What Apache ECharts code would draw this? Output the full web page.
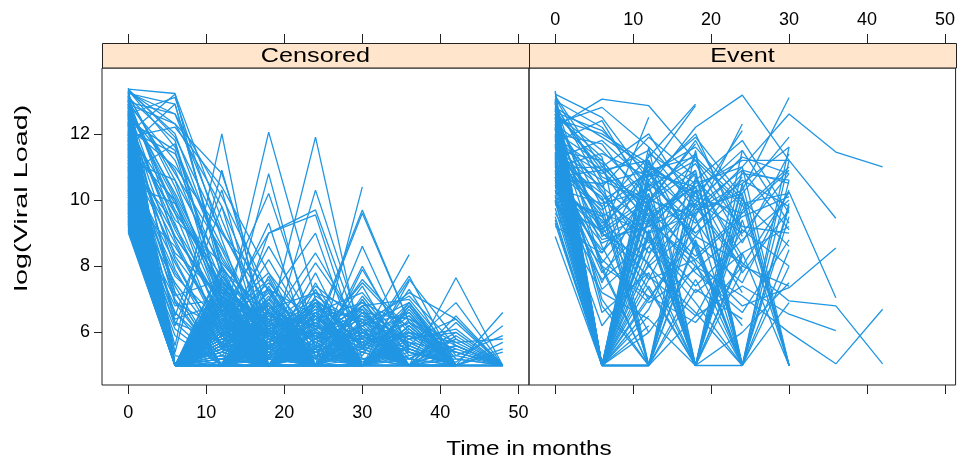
<!DOCTYPE html>
<html>
<head>
<meta charset="utf-8">
<script src="https://cdn.jsdelivr.net/npm/echarts@6/dist/echarts.min.js"></script>
<style>
  html, body { margin: 0; padding: 0; background: #fff; }
  #chart { width: 958px; height: 460px; }
</style>
</head>
<body>
<div id="chart"></div>
<script>
// measurement times (months) shared by both panels
const months = [0, 6, 12, 18, 24, 30, 36, 42, 48]
const xTicks = [0, 10, 20, 30, 40, 50]
const yTicks = [6, 8, 10, 12]
const panelNames = ['Censored', 'Event']

// log viral load per subject, one row per subject, values at months[i]
const censoredLoads = [
  [13.35, 13.22, 7.6, 5.6, 5],
  [13.3, 12.0, 8.2, 6.1, 5, 5],
  [12.0, 13.2, 9.4, 6.0, 5],
  [13.25, 12.6, 10.1, 7.2, 5],
  [12.6, 13.1, 8.8, 5, 5.4, 5],
  [13.1, 11.8, 7.0, 5, 5],
  [12.9, 12.3, 9.8, 6.5, 5, 5.7, 5],
  [11.6, 12.9, 7.9, 5, 5],
  [12.4, 11.5, 6.6, 5, 6.0, 5],
  [13.0, 10.8, 8.5, 5.5, 5],
  [11.9, 12.2, 10.4, 7.8, 5.3],
  [12.2, 11.0, 9.0, 6.8, 5, 5],
  [10.8, 11.7, 6.9, 5, 5],
  [12.7, 10.2, 7.4, 5, 5.5, 5],
  [11.2, 10.6, 8.0, 5.8, 5],
  [12.9, 9.6, 6.2, 5, 5],
  [10.5, 9.9, 7.3, 5, 5, 5],
  [13.1, 9.2, 6.8, 5.5, 5],
  [11.4, 8.7, 5.9, 5, 5],
  [12.5, 8.3, 6.4, 5, 5.6, 5],
  [10.9, 5.6, 12.0, 5.0, 5, 5],
  [11.3, 6.5, 10.3, 5.2, 5],
  [12.0, 5.4, 10.9, 6.0, 5],
  [10.2, 6.2, 9.8, 5.0, 5.5, 5],
  [11.7, 5, 6.0, 12.05, 7.0, 5],
  [12.3, 5, 5.5, 10.8, 5.5, 5],
  [9.8, 6.8, 7.0, 10.2, 6.0, 5],
  [11.0, 5, 6.3, 9.3, 5, 5, 5],
  [12.8, 5, 5, 6.2, 11.9, 5.5, 5],
  [10.6, 5, 5.8, 5.5, 10.3, 6.0, 5],
  [11.5, 7.2, 5, 9.0, 9.55, 5.2, 5],
  [13.0, 5.3, 5, 7.0, 9.0, 5, 5, 5],
  [12.1, 5, 5, 5.5, 5, 10.4],
  [11.8, 5, 6.0, 5, 6.1, 9.7, 6.3, 5],
  [10.3, 5, 5, 5.9, 5.2, 8.6, 5.5, 5],
  [9.6, 5, 5, 5, 5.6, 5.8, 8.35],
  [10.4, 5, 5.2, 5, 6.4, 5, 7.55],
  [11.1, 5, 6.6, 9.0, 9.7, 5.8, 5],
  [12.7, 5, 5, 5.6, 5, 5.4, 5, 7.65, 5],
  [10.7, 5, 5.5, 5, 5.3, 5, 5.6, 6.9, 5],
  [11.2, 5, 5, 5, 5.7, 5, 5.2, 5, 6.6],
  [9.9, 5, 5, 5.5, 5, 5.9, 5, 5.3, 5.9],
  [12.0, 5, 5.3, 5, 6.2, 5, 6.0, 5.7, 5.8],
  [9.4, 5, 5, 5, 5.4, 6.2, 7.2, 6.4, 5],
  [10.1, 5, 5, 6.0, 5, 5, 6.8, 5, 5],
  [12.9, 5, 5, 5, 5, 5.5, 7.6, 5.8, 5],
  [11.9, 5, 5, 5.2, 6.0, 9.6, 6.3, 5.4, 5],
  [9.02, 5, 5, 5.4, 5],
  [9.1, 5, 6.1, 5, 5, 5],
  [9.15, 5],
  [9.22, 5, 5, 5, 5.8, 5],
  [9.3, 5, 5.6, 5],
  [9.35, 5, 5, 6.7, 5, 5],
  [9.41, 5, 5, 5],
  [9.5, 5, 7.1, 5, 5.5],
  [9.55, 5, 5, 5, 5, 6.3, 5],
  [9.6, 5, 5.2, 5],
  [9.68, 5, 5, 5.9, 5, 5],
  [9.74, 5, 6.4, 5, 5],
  [9.8, 5, 5, 5, 6.9, 5],
  [9.86, 5, 5],
  [9.9, 5, 5.7, 5, 5, 5, 5.5],
  [9.97, 5, 5, 6.2, 5],
  [10.05, 5, 5, 5, 5, 5.6, 5],
  [10.1, 5, 6.8, 5.3, 5],
  [10.16, 5, 5],
  [10.22, 5, 5, 5.5, 5.9, 5],
  [10.3, 5, 5.9, 5, 5],
  [10.35, 5, 5, 7.4, 5, 5],
  [10.42, 5, 5.4, 5, 5, 6.0, 5, 5],
  [10.5, 5, 5, 5],
  [10.55, 5, 6.6, 5, 6.1, 5],
  [10.61, 5, 5, 5.8, 5],
  [10.68, 5, 5, 5, 5, 5, 6.2, 5],
  [10.74, 5, 7.6, 5, 5],
  [10.8, 5, 5, 5, 6.5, 5],
  [10.86, 5, 5.5, 6.0, 5],
  [10.92, 5, 5, 5],
  [11.0, 5, 6.2, 5, 5.3, 5],
  [11.05, 5, 5, 6.9, 5, 5, 5],
  [11.12, 5, 5.3, 5],
  [11.18, 5, 5, 5, 5, 7.0, 5],
  [11.25, 5, 6.9, 5, 5],
  [11.3, 5, 5, 5.6, 5, 5, 5.7, 5],
  [11.36, 5, 5.8, 5],
  [11.42, 5, 5, 5, 5.4, 5],
  [11.5, 5, 5, 7.7, 5],
  [11.56, 5, 6.3, 5, 5, 5],
  [11.62, 5, 5, 5.3, 5, 6.4, 5],
  [11.7, 5],
  [11.75, 5, 5.6, 5, 6.6, 5],
  [11.82, 5, 5, 6.4, 5, 5],
  [11.88, 5, 7.2, 5],
  [11.95, 5, 5, 5, 5.8, 5, 5, 5],
  [12.02, 5, 5.9, 5, 5],
  [12.08, 5, 5, 5, 5, 6.1, 5],
  [12.15, 5, 6.5, 5.2, 5],
  [12.2, 5, 5, 6.0, 5],
  [12.28, 5, 5.4, 5, 5, 5, 5],
  [12.34, 5, 5, 5, 7.3, 5],
  [12.4, 5, 6.0, 5],
  [12.48, 5, 5, 5.7, 5, 5.2, 5],
  [12.55, 5, 7.0, 5, 5],
  [12.6, 5, 5, 5],
  [12.66, 5, 5.5, 5, 6.3, 5],
  [12.72, 5, 5, 6.6, 5, 5, 5],
  [12.8, 5, 6.1, 5],
  [12.86, 5, 5, 5, 5, 5.9, 5],
  [12.92, 5, 5.7, 5, 5],
  [12.98, 5, 5, 5.9, 5],
  [13.05, 5, 6.7, 5, 5, 5],
  [13.12, 5, 5, 5, 5.5, 5],
  [13.18, 5, 5.2, 5],
  [13.25, 5, 5, 6.2, 5, 5],
  [13.38, 5, 5.8, 5],
  [9.45, 6.1, 5, 5],
  [9.9, 7.0, 5, 5.5],
  [10.4, 6.6, 5, 5],
  [10.9, 8.1, 5.6, 5],
  [11.3, 7.4, 5, 5],
  [11.8, 6.3, 5, 5.8, 5],
  [12.3, 7.9, 5.5, 5],
  [12.75, 8.8, 6.0, 5],
  [13.0, 6.9, 5, 5],
  [10.0, 8.6, 6.2, 5],
  [11.1, 9.3, 5.8, 5],
  [12.1, 9.9, 6.7, 5],
  [12.6, 7.2, 5, 5],
  [9.7, 5.9, 5, 5],
  [13.2, 10.4, 7.0, 5.4, 5],
  [11.5, 10.0, 6.1, 5],
  [12.9, 11.2, 7.8, 5.2, 5],
  [10.25, 5, 6.0, 5, 6.5, 5, 6.8, 5],
  [11.65, 5, 5, 6.9, 5, 6.0, 5, 5.6, 5],
  [12.45, 5, 6.8, 5, 5, 6.6, 5, 5, 5],
  [9.58, 5, 5, 6.3, 5, 5, 5.8, 6.1, 5],
  [10.85, 5, 5.7, 5, 7.5, 5, 5.4, 5],
  [11.45, 5, 6.4, 5.6, 5, 7.0, 5, 5],
  [12.25, 5, 5, 5, 6.0, 5.4, 6.5, 5.2, 5],
  [13.15, 5, 7.3, 6.2, 5, 5, 5, 5.5, 5],
  [10.65, 5, 5.1, 5.8, 5.2, 6.3, 5.7, 5, 5.4],
  [9.25, 5, 6.6, 5, 5, 5.6, 5, 5, 5],
  [11.08, 5, 6.4, 5.3, 6.9, 5.1, 6.2, 5, 5.5],
  [12.12, 5, 5.6, 6.8, 5.2, 6.7, 5, 6.3, 5],
  [10.46, 5, 7.0, 5.4, 6.3, 5.5, 6.9, 5.2, 5],
  [9.62, 5, 6.2, 6.0, 5, 7.1, 5.3, 5.6, 5],
  [12.52, 5, 5.9, 7.2, 5.6, 5, 6.4, 5],
  [11.38, 5, 6.9, 5, 7.1, 6.2, 5, 5.9, 5],
  [10.12, 5, 5.8, 6.5, 5.9, 5.3, 7.3, 5, 5],
  [13.02, 5, 6.3, 5.5, 6.7, 5, 5.8, 6.0],
  [9.82, 5, 7.4, 5.8, 5, 6.8, 5, 5],
  [10.98, 5, 5.4, 6.2, 7.0, 5.6, 6.0, 5, 5.7],
  [11.68, 5, 6.7, 5.9, 5.5, 7.4, 5, 5.2],
  [12.38, 5, 5.5, 7.0, 6.1, 5, 5.9, 5.4, 5],
  [9.48, 5, 6.0, 5.2, 6.6, 5.8, 5, 6.5, 5],
  [10.78, 5, 7.2, 6.4, 5, 5.7, 6.6, 5],
  [11.92, 5, 5.7, 5, 6.4, 6.9, 5.5, 5, 5],
  [12.68, 5, 6.6, 5.8, 5.4, 6.1, 5, 5.8],
  [13.28, 5, 7.1, 6.0, 6.8, 5, 5.3],
  [10.58, 5, 6.5, 7.3, 5, 6.0, 5.4, 5.1, 6.2],
  [11.22, 5, 5.5, 6.0, 6.3, 6.7, 5.2, 5],
  [12.32, 5, 6.1, 6.6, 5.7, 5, 6.8, 5],
  [9.28, 5, 5.3, 6.5, 6.2, 5.4, 5, 5.6],
  [10.38, 5, 6.7, 5, 5.8, 6.9, 6.2, 5],
  [11.58, 5, 7.5, 6.1, 6.5, 5.2, 5.5],
  [12.82, 5, 5.8, 6.3, 7.2, 5.5, 5, 5],
  [10.02, 5, 6.3, 6.8, 5.4, 6.1, 5.7, 5.4, 5],
  [11.48, 5, 5.2, 5.9, 6.7, 6.4, 5.9, 5],
  [12.18, 5, 6.9, 5.3, 6.0, 5.8, 6.3, 5.6, 5],
  [9.38, 5, 5.9, 7.0, 5.3, 5, 6.1, 5],
  [13.08, 5, 6.5, 5.6, 5.9, 6.5, 5, 5],
  [10.72, 5, 6.0, 5.7, 6.8, 5.9, 5.2, 5.8, 5],
  [11.78, 5, 6.8, 6.4, 5, 6.2, 6.6, 5],
  [12.58, 5, 6.2, 5.4, 6.5, 5, 5.6, 5],
  [12.42, 9.1, 6.5, 5],
  [11.28, 8.4, 7.1, 5.5, 5],
  [13.32, 11.6, 8.3, 6.0, 5],
  [12.62, 10.9, 7.5, 5],
  [10.68, 7.7, 6.3, 5],
  [11.86, 9.6, 7.7, 5.6, 5],
  [12.96, 12.6, 9.1, 6.3, 5],
  [13.22, 12.9, 8.0, 5],
  [12.12, 11.4, 8.6, 5.8, 5],
  [11.52, 8.9, 6.9, 5, 5],
  [10.18, 7.5, 5.6, 5],
  [9.52, 6.6, 5.3, 5],
  [12.88, 10.1, 7.2, 5.2],
  [13.3, 12.3, 10.8, 6.6, 5],
  [9.08, 5, 5.5, 5],
  [9.18, 5, 5, 6.1, 5],
  [9.27, 5],
  [9.33, 5, 6.4, 5],
  [9.44, 5, 5, 5, 5.7],
  [9.52, 5, 5.8, 5],
  [9.64, 5, 5],
  [9.71, 5, 5, 6.6, 5],
  [9.77, 5, 6.1, 5, 5],
  [9.84, 5],
  [9.93, 5, 5, 5.5, 5],
  [10.0, 5, 6.9, 5],
  [10.08, 5, 5, 5],
  [10.2, 5, 5.6, 5, 6.0],
  [10.27, 5],
  [10.33, 5, 5, 6.4, 5],
  [10.45, 5, 6.2, 5],
  [10.52, 5, 5],
  [10.64, 5, 5.9, 5, 5],
  [10.7, 5, 5, 5.3, 5],
  [10.83, 5, 6.6, 5],
  [10.95, 5, 5],
  [11.03, 5, 5, 6.1, 5],
  [11.15, 5, 6.0, 5],
  [11.22, 5],
  [11.33, 5, 5, 5.8, 5],
  [11.4, 5, 7.0, 5],
  [11.54, 5, 5],
  [11.6, 5, 5.5, 5, 5],
  [11.73, 5, 5, 6.7, 5],
  [11.85, 5, 6.2, 5],
  [11.98, 5],
  [12.05, 5, 5, 5.6, 5],
  [12.24, 5, 6.4, 5],
  [12.36, 5, 5],
  [12.5, 5, 5.9, 5, 5],
  [12.64, 5, 5, 6.3, 5],
  [12.77, 5, 6.8, 5],
  [12.9, 5],
  [13.0, 5, 5, 5.7, 5],
  [13.14, 5, 6.0, 5],
  [13.3, 5, 5],
  [11.02, 7.8, 5.9, 6.6, 5.3, 5],
  [12.44, 8.9, 6.8, 5.6, 6.3, 5],
  [10.34, 6.4, 6.9, 5.5, 5],
  [12.94, 9.7, 7.4, 6.1, 5.2, 5],
  [11.74, 8.2, 5.5, 7.1, 5, 5],
  [13.16, 10.6, 6.6, 5, 5.8, 5],
  [10.88, 7.1, 7.6, 5.8, 6.0, 5],
  [12.22, 9.4, 8.1, 6.4, 5, 5],
  [11.46, 6.9, 6.1, 5.2, 6.8, 5],
  [12.7, 10.0, 7.0, 5.5, 5],
  [9.96, 6.3, 5.7, 6.4, 5],
  [13.36, 11.9, 9.0, 7.3, 5.6, 5],
  [11.64, 5, 6.0, 8.2, 5.8, 6.4, 5, 5],
  [10.92, 5, 8.0, 5.9, 6.6, 5, 6.2, 5],
  [12.56, 5, 5.6, 6.3, 8.4, 6.0, 5.5, 5],
  [9.66, 5, 6.4, 7.6, 5, 7.9, 5.6, 5],
  [11.34, 5, 7.7, 6.1, 5.4, 6.8, 7.0, 5.3, 5],
  [12.06, 5, 6.1, 5.3, 7.8, 5, 6.9, 5],
  [10.48, 5, 5.9, 8.6, 6.2, 5.7, 5, 5],
  [12.84, 5, 7.9, 6.6, 5.2, 8.0, 5.4, 5],
  [10.16, 5, 6.2, 5.7, 7.4, 6.3, 7.1, 5.6, 5],
  [11.88, 5, 5.4, 7.3, 6.5, 5.6, 7.7, 5, 5],
  [13.24, 5, 6.8, 5.9, 8.1, 6.1, 5, 5.9],
  [9.34, 5, 7.1, 6.3, 5.8, 7.5, 6.0, 5],
  [10.76, 5, 5.7, 6.9, 5.5, 6.6, 6.4, 5.7, 5],
  [12.28, 5, 7.3, 5.5, 7.0, 5.9, 5.2, 6.0, 5],
  [11.12, 5, 6.5, 7.8, 6.0, 5, 6.7, 5],
  [9.88, 5, 5.5, 6.7, 7.2, 6.6, 5.4, 5],
  [12.62, 5, 6.4, 6.0, 5.6, 7.6, 6.1, 5],
  [10.56, 5, 7.5, 6.6, 6.2, 5.5, 5.9, 5],
  [11.98, 5, 6.6, 5.8, 6.9, 6.3, 5.8, 6.4, 5],
  [10.28, 5, 5.8, 6.2, 6.6, 7.2, 5.5, 5],
  [13.04, 5, 6.2, 7.5, 5.8, 6.0, 6.5, 5],
  [11.56, 5, 6.0, 6.4, 5.9, 6.8, 5.6, 5],
  [12.36, 5, 7.0, 6.2, 6.4, 5.7, 6.0, 5.5],
  [9.74, 5, 6.8, 5.6, 6.1, 6.5, 5.8, 5],
  [10.96, 5, 6.1, 6.8, 5.7, 6.2, 6.9, 5],
  [11.8, 5, 5.9, 6.1, 6.9, 5.6, 6.3, 5]
]

const eventLoads = [
  [12.2, 13.05, 12.85, 11.2, 9.8],
  [12.3, 12.8, 11.6, 10.2],
  [11.0, 9.8, 11.3, 12.9],
  [10.6, 10.5, 10.9, 12.85],
  [10.2, 9.5, 10.4, 12.2, 13.17, 11.2],
  [11.4, 10.0, 9.0, 9.6, 10.3, 13.1],
  [10.8, 8.8, 9.2, 10.5, 11.0, 12.6, 11.45, 11.0],
  [11.6, 9.0, 10.0, 9.5, 12.3],
  [12.7, 9.0, 12.5],
  [11.5, 11.2, 9.5, 10.4, 11.2, 11.2, 9.45],
  [12.0, 10.3, 8.4, 9.9, 8.0, 10.24, 7.05],
  [10.9, 7.8, 9.3, 8.2, 6.8, 7.35, 8.55],
  [11.8, 9.2, 7.0, 8.9, 8.1, 6.95, 6.8, 5.05],
  [12.1, 8.6, 6.0, 8.0, 7.1, 6.0, 5.05, 6.7],
  [10.4, 9.0, 7.7, 6.5, 7.4, 6.55, 6.05],
  [12.5, 5, 9.4, 5],
  [11.9, 5, 10.8, 9.5, 5],
  [10.7, 5, 8.3, 11.4, 5, 9.8],
  [13.0, 5, 11.6, 5, 10.1, 5],
  [12.4, 5, 10.0, 5, 11.5],
  [11.2, 5, 5, 10.6, 9.2],
  [12.8, 5, 9.9, 10.9, 5, 10.6],
  [11.7, 5, 8.9, 5, 8.4, 5],
  [12.6, 5, 7.4, 5, 9.7, 11.0],
  [10.0, 5, 10.9, 8.6, 5, 11.6],
  [12.95, 5, 11.4, 10.5],
  [11.35, 5, 6.7, 9.7, 10.2, 5],
  [8.9, 5],
  [9.3, 5, 6.0],
  [12.15, 5, 9.1, 5, 10.5, 5],
  [13.1, 10.6, 5, 10.3, 5, 9.9],
  [11.05, 10.1, 5, 9.6, 11.0, 5],
  [12.55, 11.3, 5, 8.8, 5, 11.2],
  [10.5, 8.4, 10.2, 5, 9.4, 5],
  [12.0, 11.7, 9.8, 5, 10.9, 10.5],
  [11.55, 9.6, 5, 11.5, 5, 8.5],
  [12.7, 10.9, 11.2, 8.5, 5],
  [9.9, 8.0, 5, 7.6, 5],
  [10.25, 9.4, 7.3, 5, 7.9],
  [11.85, 7.0, 5, 6.5, 9.1],
  [12.35, 10.2, 8.7, 10.0, 9.0, 10.8],
  [11.25, 11.8, 10.5, 9.3, 10.6, 9.8],
  [12.85, 10.7, 10.0, 11.1, 8.7, 11.4],
  [10.7, 10.9, 8.9, 7.4, 8.8, 10.0],
  [12.25, 9.1, 11.0, 10.1, 9.6, 10.9],
  [11.15, 8.1, 9.9, 11.8, 9.2, 9.0],
  [9.6, 7.2, 6.4, 5, 6.0, 7.5],
  [10.95, 11.0, 12.0, 9.8, 7.9],
  [12.65, 12.1, 10.8, 11.6, 10.0, 8.6],
  [11.45, 10.4, 11.9, 10.7, 8.3],
  [10.35, 9.9, 10.3, 8.9, 10.7],
  [12.05, 11.1, 9.3, 10.8, 5],
  [13.2, 12.5, 10.6, 9.0],
  [11.75, 12.4, 10.0, 11.7],
  [10.1, 6.2, 8.0, 6.6, 5, 6.9],
  [9.5, 5, 7.8],
  [10.15, 5],
  [10.45, 5, 5],
  [10.8, 5, 9.5],
  [11.1, 5, 8.1, 5],
  [11.4, 5],
  [11.65, 5, 10.2],
  [11.95, 5, 7.0, 9.2],
  [12.3, 5],
  [12.5, 5, 8.6, 10.4],
  [12.75, 5],
  [13.05, 5, 5],
  [13.25, 5, 10.6],
  [9.75, 5, 9.0, 5],
  [10.6, 5, 6.5],
  [11.3, 5.0, 5, 9.9, 11.3],
  [12.0, 5, 10.5, 5, 5],
  [10.05, 9.6, 9.0, 10.9],
  [9.2, 8.4, 11.1, 9.4, 7.2],
  [11.5, 10.6, 9.9, 5, 10.4],
  [12.45, 9.8, 5, 10.7, 8.1],
  [10.55, 9.2, 10.8, 10.4, 5, 8.0],
  [12.9, 8.9, 9.6, 5, 9.9, 5],
  [11.0, 7.5, 10.6, 12.0, 8.9],
  [12.2, 6.8, 5, 8.7, 5, 9.5],
  [11.9, 10.9, 9.4, 10.6, 11.8, 9.6],
  [12.6, 11.5, 10.1, 9.0, 10.2, 11.9],
  [10.9, 9.7, 10.9, 11.3, 9.9, 10.2],
  [11.3, 10.2, 8.0, 9.2, 10.8, 10.6],
  [12.8, 11.9, 11.0, 10.2, 11.5, 9.3],
  [10.3, 8.5, 9.6, 10.4, 7.8, 9.7],
  [11.7, 10.8, 11.5, 9.7, 10.5, 11.6],
  [12.1, 9.3, 10.4, 11.2, 9.1, 8.0],
  [13.15, 11.0, 9.7, 8.3, 9.6],
  [11.0, 11.4, 10.7, 11.9, 10.1],
  [12.45, 12.0, 11.1, 10.0, 12.1],
  [10.65, 9.0, 8.1, 9.8, 10.9, 9.1],
  [11.55, 10.0, 10.8, 8.7, 7.5, 10.3],
  [12.9, 10.4, 9.2, 9.9, 11.3, 10.8],
  [10.0, 7.6, 8.8, 7.2, 8.4, 9.2],
  [11.35, 9.5, 7.6, 8.2, 9.5, 10.1],
  [12.3, 11.2, 9.5, 7.8, 6.6, 8.8],
  [10.85, 8.2, 6.9, 7.9, 9.1],
  [12.7, 8.0, 7.1, 6.3, 8.0, 7.4],
  [11.15, 7.3, 8.6, 6.9, 5],
  [13.0, 12.2, 10.3, 11.4],
  [9.85, 9.1, 10.1],
  [10.45, 8.7, 9.4, 8.0, 6.2],
  [12.15, 7.9, 5, 7.3, 6.4],
  [11.6, 6.6, 7.8, 5, 8.3],
  [9.4, 5],
  [9.95, 5, 7.1],
  [10.3, 5, 5],
  [10.7, 5],
  [11.05, 5, 9.8, 5],
  [11.45, 5, 6.2],
  [11.8, 5],
  [12.2, 5, 11.2, 5],
  [12.6, 5],
  [12.95, 5, 9.0],
  [13.3, 5],
  [10.9, 5, 7.6, 10.3],
  [11.25, 5, 10.0, 8.1, 5]
]

const lineColor = '#2196e3'
const inkColor = '#000'
const frameColor = '#222'
const fontFamily = "'Liberation Sans', Arial, sans-serif"

// 7% padding like lattice
const xMin = -3.36
const xMax = 51.36
const yMin = 4.41
const yMax = 13.99

const chart = echarts.init(document.getElementById('chart'), null, { renderer: 'canvas' })

const toSeries = (rows, gridIndex) => rows.map(row => ({
  type: 'line',
  xAxisIndex: gridIndex,
  yAxisIndex: gridIndex,
  data: row.map((v, i) => [months[i], v]),
  symbol: 'none',
  silent: true,
  lineStyle: { width: 1.3, color: lineColor },
  animation: false
}))

const makeX = (gridIndex, position, showLabel, offset) => ({
  type: 'value',
  gridIndex: gridIndex,
  position: position,
  offset: offset,
  min: xMin,
  max: xMax,
  axisLine: { show: false, onZero: false },
  splitLine: { show: false },
  axisTick: {
    show: true,
    inside: false,
    length: 9,
    customValues: xTicks,
    lineStyle: { color: frameColor, width: 1 }
  },
  axisLabel: {
    show: showLabel,
    customValues: xTicks,
    margin: position === 'top' ? 14 : 19,
    color: inkColor,
    fontSize: 18,
    fontFamily: fontFamily
  }
})

const makeY = (gridIndex, showLabel) => ({
  type: 'value',
  gridIndex: gridIndex,
  min: yMin,
  max: yMax,
  axisLine: { show: false, onZero: false },
  splitLine: { show: false },
  axisTick: {
    show: showLabel,
    inside: false,
    length: 8,
    customValues: yTicks,
    lineStyle: { color: frameColor, width: 1 }
  },
  axisLabel: {
    show: showLabel,
    customValues: yTicks,
    margin: 12,
    color: inkColor,
    fontSize: 18,
    fontFamily: fontFamily
  }
})

const panelLeft = [102, 529]
const panelWidth = 427

const option = {
  backgroundColor: '#fff',
  animation: false,
  grid: panelLeft.map(left => ({
    left: left,
    top: 68,
    width: panelWidth,
    height: 317,
    show: true,
    borderColor: frameColor,
    borderWidth: 1,
    backgroundColor: 'transparent'
  })),
  xAxis: [
    makeX(0, 'bottom', true, 0),
    makeX(1, 'bottom', false, 0),
    makeX(0, 'top', false, 25),
    makeX(1, 'top', true, 25)
  ],
  yAxis: [makeY(0, true), makeY(1, false)],
  series: [...toSeries(censoredLoads, 0), ...toSeries(eventLoads, 1)],
  graphic: [
    ...panelLeft.map((left, i) => ({
      type: 'group',
      children: [
        {
          type: 'rect',
          shape: { x: left + 0.5, y: 43.5, width: panelWidth, height: 24.5 },
          style: { fill: '#ffe5cc', stroke: frameColor, lineWidth: 1 }
        },
        {
          type: 'text',
          x: left + panelWidth / 2,
          y: 56,
          scaleX: 1.2,
          style: {
            text: panelNames[i],
            fill: inkColor,
            font: '21px ' + fontFamily,
            textAlign: 'center',
            textVerticalAlign: 'middle'
          }
        }
      ]
    })),
    {
      type: 'text',
      x: 529,
      y: 449,
      scaleX: 1.16,
      style: {
        text: 'Time in months',
        fill: inkColor,
        font: '21px ' + fontFamily,
        textAlign: 'center',
        textVerticalAlign: 'middle'
      }
    },
    {
      type: 'text',
      x: 22,
      y: 198,
      rotation: Math.PI / 2,
      scaleX: 1.6,
      style: {
        text: 'log(Viral Load)',
        fill: inkColor,
        font: '18px ' + fontFamily,
        textAlign: 'center',
        textVerticalAlign: 'middle'
      }
    }
  ]
}

chart.setOption(option)
</script>
</body>
</html>
